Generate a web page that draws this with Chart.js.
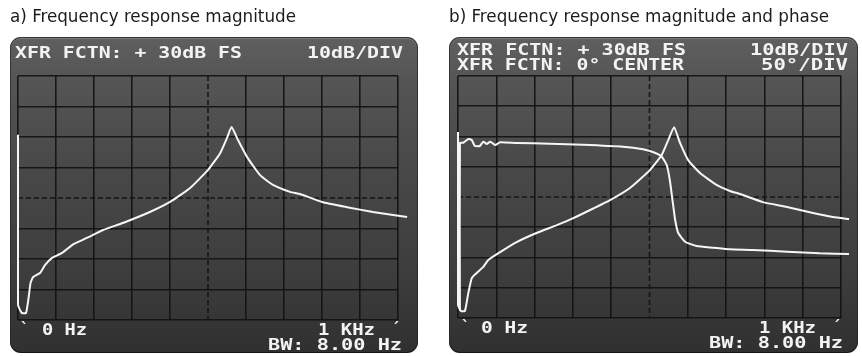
<!DOCTYPE html>
<html><head><meta charset="utf-8">
<script src="https://cdn.jsdelivr.net/npm/chart.js@4.4.1/dist/chart.umd.min.js"></script>
<style>
html,body{margin:0;padding:0;background:#fff;width:862px;height:356px;overflow:hidden;position:relative}
.title{position:absolute;top:7px;font-family:"Liberation Sans Narrow","DejaVu Sans Condensed",sans-serif;font-size:18px;line-height:18px;color:#1c1c1c;white-space:pre;transform-origin:0 0}
.screen{position:absolute;top:37px;height:316px;border-radius:11px;
 background:linear-gradient(to bottom,#5f5f5f 0%,#545454 15%,#474747 45%,#3d3d3d 75%,#303030 100%);
 box-shadow:inset 0 0 0 1px rgba(0,0,0,0.55), inset 0 1px 0 1px rgba(200,200,200,0.25)}
.crt{position:absolute;font-family:"DejaVu Sans Mono",monospace;font-weight:bold;font-size:15px;line-height:15px;color:#f3f3f3;white-space:pre;transform-origin:0 0}
.wrap{position:absolute;top:0;width:431px;height:356px}
</style></head>
<body>
<div class="screen" style="left:10px;width:408px"></div>
<div class="screen" style="left:449px;width:409px"></div>
<div class="wrap" style="left:0"><canvas id="cA"></canvas></div>
<div class="wrap" style="left:431px"><canvas id="cB"></canvas></div>
<div id="texts"></div>
<script>
// ---- data ----
// panel a) magnitude (Hz, dB re +30 dB FS scale, 10 dB/div)
const freqA = [0, 0, 10, 21, 27, 33, 40, 58, 71, 89, 115, 146, 181, 224, 276, 347, 400, 453, 500, 532, 550, 562, 579, 603, 637, 671, 716, 742, 800, 866, 934, 987, 1024];
const magA  = [10.7, -45, -47.7, -47.7, -43.5, -37.9, -35.9, -34.6, -32.0, -29.7, -28.1, -25.1, -23.1, -20.5, -18.2, -14.6, -11.3, -6.7, -0.8, 4.7, 9.7, 13.3, 9.0, 3.4, -2.5, -5.7, -8.0, -8.7, -11.3, -13.0, -14.6, -15.6, -16.2];
// panel b) magnitude
const freqB = [0, 0, 8, 18, 27, 36, 49, 66, 79, 110, 153, 205, 258, 301, 345, 397, 449, 501, 532, 549, 564, 580, 601, 632, 675, 710, 736, 796, 859, 927, 979, 1021];
const magB  = [11.5, -45.7, -47.7, -47.7, -41.7, -36.8, -35.1, -33.1, -30.8, -28.2, -24.9, -21.9, -19.3, -17.0, -14.3, -11.0, -7.0, -1.1, 3.9, 8.8, 13.1, 7.8, 2.2, -2.1, -6.0, -8.0, -9.0, -11.7, -13.3, -15.3, -16.6, -17.3];
// panel b) phase (degrees, 0 deg centre, 50 deg/div)
const freqPh = [5, 5, 14, 27, 36, 44, 57, 66, 75, 84, 97, 110, 153, 240, 326, 431, 483, 514, 532, 545, 553, 561, 567, 575, 593, 623, 667, 710, 770, 859, 945, 1021];
const phase  = [-188, 89.2, 89.7, 95.9, 94.2, 84.3, 84.3, 91.4, 87.6, 91.4, 86.0, 90.4, 89.2, 88.1, 86.4, 83.1, 78.8, 73.2, 66.6, 52.9, 28.1, -9.9, -38.0, -59.5, -73.9, -81.0, -83.8, -86.5, -87.6, -90.4, -93.1, -94.2];
// axes
const freqRange = [0, 1000], freqStep = 100, freqCentre = 500;
const dbRange = [-50, 30], dbStep = 10, dbCentre = -10;
const phRange = [-200, 200];
// texts
const titleA = "a) Frequency response magnitude";
const titleB = "b) Frequency response magnitude and phase";
const hdrMag = "XFR FCTN: + 30dB FS", hdrPh = "XFR FCTN: 0\u00B0 CENTER";
const divMag = "10dB/DIV", divPh = "50\u00B0/DIV";
const startLbl = "0 Hz", endLbl = "1 KHz", bwLbl = "BW: 8.00 Hz";

const zip = (xs, ys) => xs.map((x, i) => ({x, y: ys[i]}));

// ---- text layout ----
const texts = [
  {t: titleA, cls: 'title', l: 10, top: 7, w: 286},
  {t: titleB, cls: 'title', l: 449, top: 7, w: 380},
  {t: hdrMag, cls: 'crt', l: 15, top: 46, w: 227},
  {t: divMag, cls: 'crt', l: 307, top: 46, w: 96},
  {t: '`', cls: 'crt', l: 20, top: 322},
  {t: startLbl, cls: 'crt', l: 42, top: 323, w: 45},
  {t: endLbl, cls: 'crt', l: 318, top: 323, w: 57},
  {t: '\u00B4', cls: 'crt', l: 391, top: 322},
  {t: bwLbl, cls: 'crt', l: 268, top: 338, w: 134},
  {t: hdrMag, cls: 'crt', l: 457, top: 43, w: 229},
  {t: hdrPh, cls: 'crt', l: 457, top: 58, w: 227},
  {t: divMag, cls: 'crt', l: 750, top: 43, w: 98},
  {t: divPh, cls: 'crt', l: 761, top: 58, w: 87},
  {t: '`', cls: 'crt', l: 461, top: 320},
  {t: startLbl, cls: 'crt', l: 481, top: 321, w: 47},
  {t: endLbl, cls: 'crt', l: 759, top: 321, w: 57},
  {t: '\u00B4', cls: 'crt', l: 832, top: 320},
  {t: bwLbl, cls: 'crt', l: 709, top: 336, w: 134},
];
const host = document.getElementById('texts');
const els = texts.map(d => {
  const e = document.createElement('div');
  e.className = d.cls; e.textContent = d.t;
  e.style.left = d.l + 'px'; e.style.top = d.top + 'px';
  host.appendChild(e); return [e, d];
});
function fitAll(){
  els.forEach(([e, d]) => {
    if (!d.w) return;
    e.style.transform = 'none';
    const w = e.getBoundingClientRect().width;
    if (w > 0) e.style.transform = 'scaleX(' + (d.w / w) + ')';
  });
}
fitAll();
if (document.fonts && document.fonts.ready) document.fonts.ready.then(fitAll);

// ---- charts ----
const gridCol = 'rgba(18,18,18,0.92)';
const centreLines = {
  id: 'centreLines',
  beforeDatasetsDraw(chart, args, o) {
    const {ctx, chartArea: a, scales: {x, y}} = chart;
    const cx = x.getPixelForValue(o.x), cy = y.getPixelForValue(o.y);
    ctx.save();
    ctx.strokeStyle = gridCol; ctx.lineWidth = 1.6; ctx.setLineDash([5, 3]);
    ctx.beginPath();
    ctx.moveTo(cx, a.top); ctx.lineTo(cx, a.bottom);
    ctx.moveTo(a.left, cy); ctx.lineTo(a.right, cy);
    ctx.stroke(); ctx.restore();
  }
};
function trace(data, axis) {
  return {data, yAxisID: axis || 'y', borderColor: '#f6f6f6', borderWidth: 2, pointRadius: 0,
          tension: 0.15, clip: false, fill: false};
}
function makeChart(id, datasets, pad, withPhase) {
  const scales = {
    x: {type: 'linear', min: freqRange[0], max: freqRange[1],
        ticks: {display: false, stepSize: freqStep},
        grid: {drawTicks: false, lineWidth: 1.6,
               color: c => (c.tick && c.tick.value === freqCentre) ? 'rgba(0,0,0,0)' : gridCol},
        border: {display: false}},
    y: {type: 'linear', min: dbRange[0], max: dbRange[1],
        ticks: {display: false, stepSize: dbStep},
        grid: {drawTicks: false, lineWidth: 1.6,
               color: c => (c.tick && c.tick.value === dbCentre) ? 'rgba(0,0,0,0)' : gridCol},
        border: {display: false}}
  };
  if (withPhase) scales.y2 = {type: 'linear', display: false, min: phRange[0], max: phRange[1]};
  return new Chart(document.getElementById(id), {
    type: 'line',
    data: {datasets},
    options: {
      responsive: true, maintainAspectRatio: false, animation: false,
      layout: {padding: pad},
      scales,
      plugins: {legend: {display: false}, tooltip: {enabled: false},
                centreLines: {x: freqCentre, y: dbCentre}},
      elements: {line: {capBezierPoints: true}}
    },
    plugins: [centreLines]
  });
}
makeChart('cA', [trace(zip(freqA, magA))], {left: 18, right: 33, top: 76, bottom: 36}, false);
makeChart('cB', [trace(zip(freqB, magB)), trace(zip(freqPh, phase), 'y2')], {left: 27, right: 21, top: 76, bottom: 38}, true);
</script>
</body></html>
